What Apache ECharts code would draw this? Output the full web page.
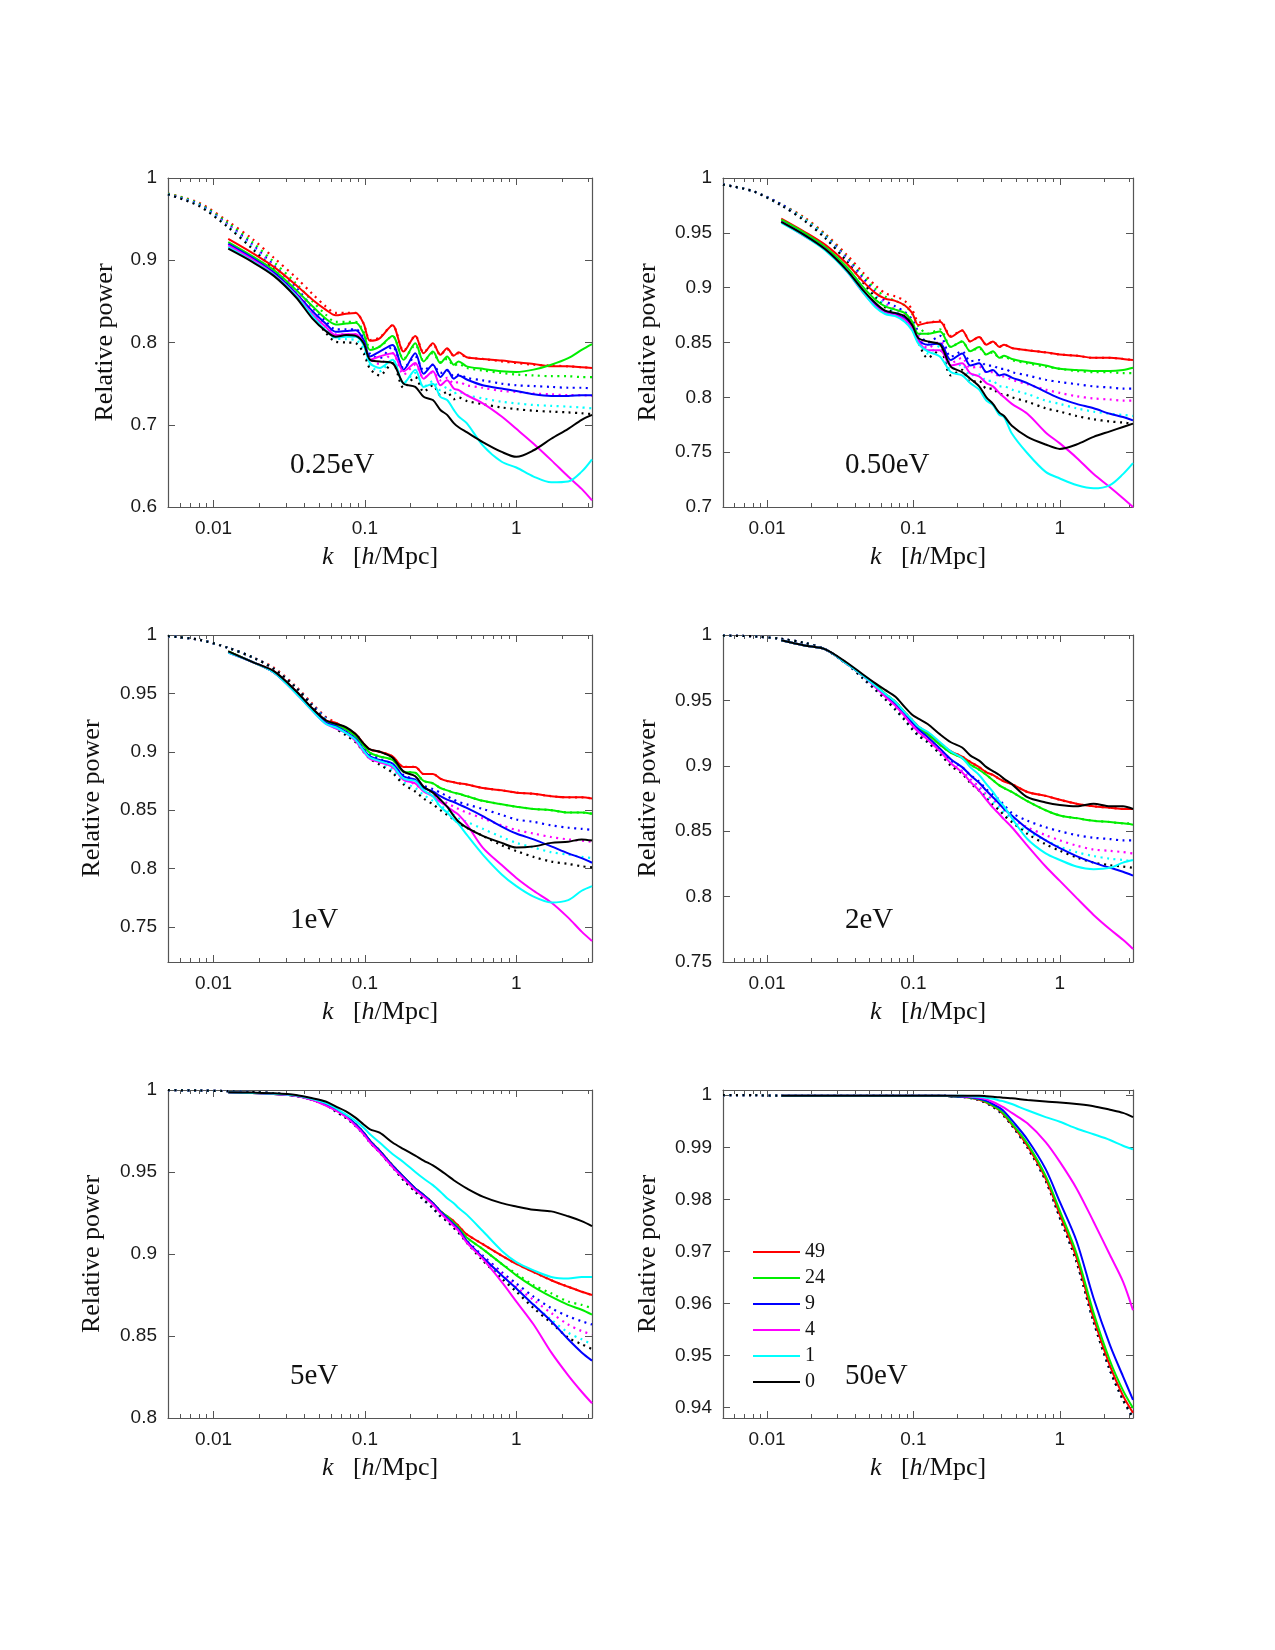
<!DOCTYPE html>
<html>
<head>
<meta charset="utf-8">
<script src="https://cdn.jsdelivr.net/npm/echarts@6/dist/echarts.min.js"></script>
<style>
  html, body { margin: 0; padding: 0; background: #fff; }
  #chart { width: 1275px; height: 1650px; }
</style>
</head>
<body>
<div id="chart"></div>
<script>
// wavenumber grid, k [h/Mpc]
const K = [0.005, 0.008, 0.0125, 0.018, 0.025, 0.035, 0.045, 0.055, 0.064, 0.075, 0.087, 0.098, 0.108, 0.125, 0.152, 0.18,
  0.215, 0.244, 0.281, 0.315, 0.349, 0.386, 0.416, 0.47, 0.6, 0.8, 1.0, 1.3, 1.7, 2.2, 2.7, 3.16];

const X_MIN = 0.005, X_MAX = 3.16;
const X_MAJOR = [0.01, 0.1, 1];
const X_MINOR = [0.006, 0.007, 0.008, 0.009, 0.02, 0.03, 0.04, 0.05, 0.06, 0.07, 0.08, 0.09,
  0.2, 0.3, 0.4, 0.5, 0.6, 0.7, 0.8, 0.9, 2, 3];

// redshifts (legend) and line colours
const Z_LABELS = ['49', '24', '9', '4', '1', '0'];
const COLORS = ['#ff0000', '#00ee00', '#0000ff', '#ff00ff', '#00ffff', '#000000'];

// ---- 0.25eV ---- (s = simulation, solid; t = linear theory, dotted)
const s025_49 = [null, null, 0.926, 0.909, 0.892, 0.870, 0.852, 0.840, 0.833, 0.835, 0.836, 0.823, 0.802, 0.805, 0.821, 0.789, 0.808, 0.787, 0.799, 0.785, 0.793, 0.784, 0.788, 0.782, 0.780, 0.778, 0.776, 0.774, 0.771, 0.771, 0.770, 0.769];
const s025_24 = [null, null, 0.922, 0.905, 0.888, 0.864, 0.844, 0.829, 0.822, 0.823, 0.824, 0.811, 0.791, 0.795, 0.808, 0.779, 0.799, 0.777, 0.789, 0.775, 0.783, 0.773, 0.777, 0.771, 0.768, 0.765, 0.764, 0.767, 0.773, 0.781, 0.791, 0.798];
const s025_9 = [null, null, 0.920, 0.903, 0.885, 0.860, 0.838, 0.823, 0.813, 0.814, 0.815, 0.803, 0.783, 0.789, 0.797, 0.767, 0.787, 0.762, 0.773, 0.758, 0.767, 0.756, 0.760, 0.755, 0.748, 0.744, 0.741, 0.737, 0.735, 0.735, 0.736, 0.736];
const s025_4 = [null, null, 0.918, 0.901, 0.883, 0.858, 0.834, 0.819, 0.809, 0.810, 0.810, 0.799, 0.779, 0.783, 0.787, 0.765, 0.775, 0.756, 0.765, 0.748, 0.754, 0.744, 0.742, 0.736, 0.726, 0.710, 0.695, 0.677, 0.657, 0.637, 0.622, 0.608];
const s025_1 = [null, null, 0.916, 0.899, 0.882, 0.857, 0.832, 0.815, 0.806, 0.807, 0.807, 0.797, 0.775, 0.769, 0.779, 0.750, 0.767, 0.746, 0.750, 0.734, 0.730, 0.718, 0.710, 0.702, 0.675, 0.655, 0.648, 0.637, 0.630, 0.631, 0.643, 0.658];
const s025_0 = [null, null, 0.914, 0.898, 0.881, 0.855, 0.829, 0.814, 0.807, 0.809, 0.808, 0.799, 0.779, 0.777, 0.775, 0.750, 0.746, 0.734, 0.730, 0.718, 0.712, 0.702, 0.697, 0.691, 0.679, 0.667, 0.661, 0.669, 0.683, 0.695, 0.706, 0.712];
const t025_49 = [0.981, 0.970, 0.947, 0.926, 0.903, 0.879, 0.859, 0.844, 0.836, 0.836, 0.836, 0.823, 0.803, 0.806, 0.821, 0.790, 0.808, 0.788, 0.798, 0.785, 0.792, 0.784, 0.787, 0.782, 0.780, 0.777, 0.775, 0.773, 0.772, 0.771, 0.770, 0.769];
const t025_24 = [0.981, 0.969, 0.945, 0.922, 0.898, 0.872, 0.850, 0.834, 0.825, 0.825, 0.825, 0.813, 0.794, 0.795, 0.808, 0.780, 0.797, 0.778, 0.787, 0.776, 0.780, 0.772, 0.774, 0.769, 0.766, 0.763, 0.761, 0.760, 0.759, 0.759, 0.758, 0.758];
const t025_9 = [0.980, 0.968, 0.943, 0.919, 0.894, 0.867, 0.843, 0.826, 0.816, 0.816, 0.816, 0.805, 0.786, 0.781, 0.795, 0.769, 0.783, 0.766, 0.773, 0.763, 0.766, 0.759, 0.761, 0.757, 0.754, 0.750, 0.748, 0.747, 0.746, 0.745, 0.745, 0.744];
const t025_4 = [0.980, 0.967, 0.942, 0.917, 0.892, 0.864, 0.839, 0.821, 0.810, 0.810, 0.810, 0.799, 0.780, 0.774, 0.787, 0.761, 0.773, 0.757, 0.764, 0.754, 0.757, 0.750, 0.752, 0.748, 0.745, 0.741, 0.740, 0.738, 0.737, 0.736, 0.736, 0.735];
const t025_1 = [0.980, 0.967, 0.941, 0.916, 0.890, 0.861, 0.835, 0.816, 0.805, 0.804, 0.803, 0.792, 0.772, 0.765, 0.779, 0.751, 0.763, 0.746, 0.753, 0.742, 0.746, 0.738, 0.740, 0.736, 0.732, 0.728, 0.726, 0.724, 0.723, 0.722, 0.721, 0.720];
const t025_0 = [0.980, 0.966, 0.940, 0.914, 0.888, 0.858, 0.832, 0.812, 0.801, 0.800, 0.799, 0.787, 0.768, 0.760, 0.775, 0.745, 0.758, 0.740, 0.748, 0.736, 0.740, 0.731, 0.733, 0.729, 0.725, 0.721, 0.719, 0.717, 0.716, 0.715, 0.714, 0.713];

// ---- 0.50eV ----
const s050_49 = [null, null, 0.963, 0.951, 0.939, 0.922, 0.906, 0.895, 0.890, 0.888, 0.884, 0.877, 0.866, 0.868, 0.869, 0.855, 0.861, 0.851, 0.855, 0.848, 0.851, 0.846, 0.848, 0.845, 0.843, 0.841, 0.839, 0.838, 0.836, 0.836, 0.835, 0.834];
const s050_24 = [null, null, 0.962, 0.950, 0.937, 0.919, 0.901, 0.889, 0.883, 0.880, 0.877, 0.869, 0.858, 0.858, 0.860, 0.846, 0.851, 0.842, 0.846, 0.839, 0.842, 0.836, 0.838, 0.835, 0.832, 0.829, 0.826, 0.825, 0.824, 0.824, 0.825, 0.827];
const s050_9 = [null, null, 0.960, 0.948, 0.935, 0.916, 0.898, 0.884, 0.878, 0.876, 0.872, 0.864, 0.852, 0.848, 0.849, 0.834, 0.840, 0.829, 0.831, 0.823, 0.825, 0.820, 0.821, 0.818, 0.813, 0.805, 0.799, 0.794, 0.790, 0.785, 0.782, 0.779];
const s050_4 = [null, null, 0.960, 0.947, 0.935, 0.915, 0.896, 0.883, 0.877, 0.875, 0.871, 0.863, 0.851, 0.843, 0.843, 0.829, 0.831, 0.822, 0.819, 0.813, 0.810, 0.804, 0.800, 0.794, 0.785, 0.768, 0.758, 0.745, 0.730, 0.718, 0.708, 0.700];
const s050_1 = [null, null, 0.959, 0.947, 0.934, 0.915, 0.896, 0.882, 0.876, 0.874, 0.869, 0.861, 0.849, 0.842, 0.837, 0.823, 0.820, 0.813, 0.807, 0.797, 0.793, 0.784, 0.782, 0.767, 0.749, 0.732, 0.726, 0.720, 0.717, 0.720, 0.730, 0.740];
const s050_0 = [null, null, 0.960, 0.948, 0.935, 0.916, 0.898, 0.886, 0.879, 0.877, 0.874, 0.866, 0.854, 0.851, 0.848, 0.828, 0.823, 0.817, 0.810, 0.800, 0.794, 0.786, 0.783, 0.774, 0.764, 0.757, 0.753, 0.757, 0.764, 0.769, 0.773, 0.776];
const t050_49 = [0.994, 0.988, 0.976, 0.964, 0.949, 0.930, 0.914, 0.902, 0.895, 0.892, 0.888, 0.880, 0.869, 0.868, 0.870, 0.856, 0.861, 0.851, 0.855, 0.848, 0.851, 0.846, 0.848, 0.845, 0.843, 0.841, 0.839, 0.838, 0.836, 0.836, 0.835, 0.834];
const t050_24 = [0.994, 0.988, 0.976, 0.963, 0.948, 0.928, 0.911, 0.899, 0.892, 0.888, 0.884, 0.876, 0.865, 0.858, 0.862, 0.846, 0.851, 0.842, 0.845, 0.839, 0.841, 0.836, 0.837, 0.834, 0.831, 0.828, 0.826, 0.824, 0.823, 0.823, 0.822, 0.822];
const t050_9 = [0.994, 0.988, 0.976, 0.962, 0.947, 0.927, 0.909, 0.896, 0.888, 0.883, 0.878, 0.871, 0.860, 0.850, 0.856, 0.837, 0.842, 0.833, 0.834, 0.829, 0.829, 0.826, 0.826, 0.823, 0.820, 0.816, 0.814, 0.812, 0.810, 0.809, 0.808, 0.808];
const t050_4 = [0.994, 0.988, 0.975, 0.962, 0.946, 0.926, 0.907, 0.894, 0.886, 0.880, 0.875, 0.868, 0.856, 0.845, 0.851, 0.831, 0.836, 0.827, 0.828, 0.823, 0.823, 0.819, 0.819, 0.816, 0.812, 0.807, 0.804, 0.801, 0.799, 0.798, 0.797, 0.797];
const t050_1 = [0.994, 0.988, 0.975, 0.962, 0.946, 0.925, 0.906, 0.893, 0.884, 0.878, 0.873, 0.865, 0.853, 0.840, 0.847, 0.825, 0.830, 0.820, 0.821, 0.815, 0.815, 0.810, 0.810, 0.807, 0.803, 0.797, 0.794, 0.790, 0.787, 0.785, 0.784, 0.783];
const t050_0 = [0.994, 0.988, 0.975, 0.961, 0.945, 0.924, 0.905, 0.891, 0.882, 0.876, 0.870, 0.862, 0.850, 0.836, 0.843, 0.820, 0.825, 0.814, 0.815, 0.808, 0.808, 0.803, 0.803, 0.800, 0.796, 0.790, 0.787, 0.783, 0.780, 0.778, 0.777, 0.776];

// ---- 1eV ----
const s1_49 = [null, null, 0.986, 0.977, 0.969, 0.952, 0.937, 0.927, 0.925, 0.920, 0.915, 0.907, 0.902, 0.900, 0.896, 0.887, 0.887, 0.881, 0.881, 0.877, 0.875, 0.874, 0.873, 0.872, 0.869, 0.867, 0.865, 0.864, 0.862, 0.861, 0.861, 0.860];
const s1_24 = [null, null, 0.986, 0.977, 0.968, 0.951, 0.936, 0.926, 0.923, 0.919, 0.913, 0.905, 0.899, 0.896, 0.893, 0.883, 0.882, 0.875, 0.873, 0.869, 0.867, 0.865, 0.864, 0.862, 0.858, 0.855, 0.853, 0.851, 0.850, 0.848, 0.848, 0.847];
const s1_9 = [null, null, 0.985, 0.977, 0.968, 0.951, 0.936, 0.925, 0.922, 0.917, 0.911, 0.902, 0.896, 0.893, 0.890, 0.879, 0.876, 0.869, 0.866, 0.862, 0.859, 0.857, 0.855, 0.852, 0.845, 0.836, 0.830, 0.825, 0.819, 0.813, 0.809, 0.805];
const s1_4 = [null, null, 0.985, 0.977, 0.968, 0.950, 0.935, 0.924, 0.920, 0.916, 0.909, 0.900, 0.894, 0.891, 0.887, 0.876, 0.873, 0.866, 0.862, 0.857, 0.853, 0.849, 0.846, 0.838, 0.818, 0.803, 0.792, 0.781, 0.771, 0.758, 0.746, 0.738];
const s1_1 = [null, null, 0.985, 0.977, 0.968, 0.950, 0.935, 0.924, 0.921, 0.916, 0.910, 0.901, 0.895, 0.892, 0.888, 0.877, 0.875, 0.867, 0.862, 0.853, 0.848, 0.842, 0.838, 0.829, 0.812, 0.795, 0.785, 0.776, 0.771, 0.773, 0.781, 0.785];
const s1_0 = [null, null, 0.986, 0.977, 0.969, 0.952, 0.937, 0.927, 0.924, 0.921, 0.915, 0.907, 0.902, 0.900, 0.895, 0.883, 0.879, 0.870, 0.865, 0.859, 0.853, 0.845, 0.840, 0.835, 0.828, 0.822, 0.818, 0.819, 0.822, 0.823, 0.825, 0.824];
const t1_49 = [0.999, 0.996, 0.989, 0.981, 0.972, 0.956, 0.941, 0.930, 0.925, 0.920, 0.915, 0.907, 0.902, 0.900, 0.896, 0.887, 0.887, 0.881, 0.881, 0.877, 0.875, 0.874, 0.873, 0.872, 0.869, 0.867, 0.865, 0.864, 0.862, 0.861, 0.861, 0.860];
const t1_24 = [0.999, 0.996, 0.989, 0.981, 0.971, 0.955, 0.940, 0.929, 0.923, 0.919, 0.913, 0.905, 0.899, 0.896, 0.893, 0.883, 0.882, 0.875, 0.873, 0.869, 0.867, 0.865, 0.864, 0.862, 0.858, 0.855, 0.853, 0.851, 0.850, 0.848, 0.848, 0.847];
const t1_9 = [0.999, 0.996, 0.989, 0.981, 0.971, 0.955, 0.940, 0.929, 0.922, 0.917, 0.911, 0.903, 0.898, 0.894, 0.889, 0.880, 0.876, 0.871, 0.868, 0.865, 0.862, 0.859, 0.857, 0.855, 0.851, 0.846, 0.842, 0.840, 0.837, 0.835, 0.834, 0.833];
const t1_4 = [0.999, 0.996, 0.989, 0.981, 0.971, 0.955, 0.939, 0.928, 0.921, 0.916, 0.910, 0.902, 0.896, 0.892, 0.886, 0.877, 0.872, 0.867, 0.863, 0.859, 0.856, 0.853, 0.851, 0.848, 0.843, 0.837, 0.833, 0.830, 0.827, 0.825, 0.824, 0.823];
const t1_1 = [0.999, 0.996, 0.989, 0.981, 0.971, 0.955, 0.939, 0.928, 0.921, 0.915, 0.909, 0.901, 0.895, 0.890, 0.884, 0.874, 0.869, 0.863, 0.858, 0.854, 0.850, 0.846, 0.843, 0.840, 0.834, 0.827, 0.822, 0.818, 0.814, 0.812, 0.810, 0.809];
const t1_0 = [0.999, 0.996, 0.989, 0.981, 0.971, 0.955, 0.939, 0.927, 0.920, 0.914, 0.908, 0.900, 0.894, 0.889, 0.882, 0.872, 0.866, 0.860, 0.855, 0.850, 0.846, 0.842, 0.839, 0.835, 0.828, 0.820, 0.815, 0.810, 0.806, 0.804, 0.802, 0.801];

// ---- 2eV ----
const s2_49 = [null, null, 0.996, 0.992, 0.989, 0.978, 0.969, 0.962, 0.955, 0.949, 0.941, 0.935, 0.930, 0.925, 0.917, 0.911, 0.907, 0.903, 0.899, 0.895, 0.893, 0.890, 0.888, 0.886, 0.880, 0.877, 0.874, 0.871, 0.869, 0.868, 0.867, 0.867];
const s2_24 = [null, null, 0.996, 0.992, 0.989, 0.978, 0.969, 0.962, 0.955, 0.949, 0.941, 0.934, 0.929, 0.924, 0.916, 0.910, 0.906, 0.901, 0.897, 0.893, 0.889, 0.885, 0.883, 0.880, 0.873, 0.866, 0.862, 0.860, 0.858, 0.857, 0.856, 0.855];
const s2_9 = [null, null, 0.996, 0.992, 0.989, 0.978, 0.969, 0.961, 0.954, 0.947, 0.940, 0.933, 0.928, 0.922, 0.913, 0.905, 0.899, 0.893, 0.887, 0.881, 0.876, 0.871, 0.867, 0.862, 0.852, 0.843, 0.837, 0.831, 0.826, 0.822, 0.819, 0.816];
const s2_4 = [null, null, 0.996, 0.992, 0.989, 0.978, 0.969, 0.960, 0.953, 0.946, 0.938, 0.931, 0.926, 0.920, 0.911, 0.902, 0.895, 0.888, 0.881, 0.874, 0.868, 0.863, 0.859, 0.853, 0.839, 0.823, 0.812, 0.799, 0.786, 0.775, 0.767, 0.760];
const s2_1 = [null, null, 0.996, 0.992, 0.989, 0.978, 0.969, 0.961, 0.955, 0.949, 0.941, 0.935, 0.930, 0.926, 0.918, 0.911, 0.906, 0.899, 0.893, 0.886, 0.880, 0.873, 0.869, 0.860, 0.844, 0.833, 0.828, 0.823, 0.821, 0.822, 0.826, 0.828];
const s2_0 = [null, null, 0.996, 0.992, 0.989, 0.979, 0.970, 0.963, 0.958, 0.953, 0.945, 0.939, 0.936, 0.932, 0.924, 0.918, 0.914, 0.908, 0.904, 0.899, 0.896, 0.893, 0.890, 0.886, 0.876, 0.872, 0.870, 0.869, 0.871, 0.869, 0.869, 0.867];
const t2_49 = [0.9995, 0.999, 0.997, 0.994, 0.989, 0.978, 0.969, 0.962, 0.955, 0.949, 0.941, 0.935, 0.930, 0.925, 0.917, 0.911, 0.907, 0.903, 0.899, 0.895, 0.893, 0.890, 0.888, 0.886, 0.880, 0.877, 0.874, 0.871, 0.869, 0.868, 0.867, 0.867];
const t2_24 = [0.9995, 0.999, 0.997, 0.994, 0.989, 0.978, 0.969, 0.962, 0.955, 0.949, 0.941, 0.934, 0.929, 0.924, 0.916, 0.910, 0.906, 0.901, 0.897, 0.893, 0.889, 0.885, 0.883, 0.880, 0.873, 0.866, 0.862, 0.860, 0.858, 0.857, 0.856, 0.856];
const t2_9 = [0.9995, 0.999, 0.997, 0.994, 0.989, 0.978, 0.968, 0.959, 0.952, 0.945, 0.937, 0.930, 0.925, 0.920, 0.912, 0.904, 0.899, 0.893, 0.888, 0.882, 0.878, 0.874, 0.870, 0.864, 0.858, 0.853, 0.850, 0.847, 0.845, 0.844, 0.843, 0.843];
const t2_4 = [0.9995, 0.999, 0.997, 0.994, 0.989, 0.978, 0.967, 0.958, 0.951, 0.944, 0.936, 0.929, 0.924, 0.919, 0.910, 0.902, 0.896, 0.890, 0.884, 0.878, 0.874, 0.870, 0.866, 0.860, 0.853, 0.847, 0.843, 0.839, 0.836, 0.835, 0.834, 0.833];
const t2_1 = [0.9995, 0.999, 0.997, 0.994, 0.989, 0.978, 0.967, 0.958, 0.951, 0.943, 0.935, 0.928, 0.923, 0.918, 0.909, 0.901, 0.895, 0.888, 0.882, 0.876, 0.872, 0.868, 0.864, 0.858, 0.850, 0.843, 0.838, 0.834, 0.831, 0.829, 0.828, 0.827];
const t2_0 = [0.9995, 0.999, 0.997, 0.994, 0.989, 0.978, 0.967, 0.958, 0.951, 0.943, 0.935, 0.928, 0.923, 0.918, 0.909, 0.900, 0.894, 0.887, 0.881, 0.875, 0.870, 0.866, 0.862, 0.857, 0.848, 0.840, 0.835, 0.830, 0.826, 0.824, 0.823, 0.822];

// ---- 5eV ----
const s5_49 = [null, null, 0.9986, 0.9982, 0.9976, 0.9965, 0.994, 0.991, 0.988, 0.984, 0.979, 0.974, 0.969, 0.963, 0.954, 0.947, 0.940, 0.936, 0.931, 0.926, 0.923, 0.920, 0.917, 0.912, 0.906, 0.899, 0.894, 0.889, 0.884, 0.880, 0.877, 0.875];
const s5_24 = [null, null, 0.9986, 0.9982, 0.9976, 0.9965, 0.994, 0.991, 0.988, 0.984, 0.979, 0.974, 0.969, 0.963, 0.954, 0.947, 0.940, 0.936, 0.931, 0.926, 0.923, 0.919, 0.916, 0.910, 0.903, 0.894, 0.887, 0.880, 0.874, 0.869, 0.866, 0.863];
const s5_9 = [null, null, 0.9986, 0.9982, 0.9976, 0.9965, 0.994, 0.991, 0.988, 0.984, 0.979, 0.974, 0.969, 0.963, 0.954, 0.947, 0.940, 0.936, 0.931, 0.926, 0.922, 0.918, 0.915, 0.908, 0.898, 0.887, 0.879, 0.869, 0.859, 0.848, 0.840, 0.835];
const s5_4 = [null, null, 0.9986, 0.9982, 0.9976, 0.9964, 0.9938, 0.9905, 0.9875, 0.9835, 0.978, 0.973, 0.968, 0.962, 0.953, 0.946, 0.939, 0.935, 0.930, 0.925, 0.921, 0.917, 0.914, 0.907, 0.897, 0.883, 0.871, 0.857, 0.840, 0.826, 0.816, 0.809];
const s5_1 = [null, null, 0.9986, 0.9982, 0.9977, 0.9967, 0.9945, 0.992, 0.989, 0.985, 0.981, 0.977, 0.973, 0.968, 0.961, 0.956, 0.950, 0.946, 0.942, 0.938, 0.934, 0.931, 0.928, 0.924, 0.914, 0.902, 0.895, 0.890, 0.886, 0.885, 0.886, 0.886];
const s5_0 = [null, null, 0.9987, 0.9984, 0.998, 0.997, 0.995, 0.993, 0.990, 0.987, 0.983, 0.979, 0.976, 0.974, 0.968, 0.964, 0.960, 0.957, 0.954, 0.951, 0.948, 0.945, 0.943, 0.940, 0.935, 0.931, 0.929, 0.927, 0.926, 0.923, 0.920, 0.917];
const t5_49 = [0.9999, 0.9997, 0.9993, 0.9988, 0.998, 0.9965, 0.994, 0.991, 0.988, 0.984, 0.979, 0.974, 0.969, 0.963, 0.954, 0.947, 0.940, 0.936, 0.931, 0.926, 0.923, 0.920, 0.917, 0.912, 0.906, 0.899, 0.894, 0.889, 0.884, 0.880, 0.877, 0.875];
const t5_24 = [0.9999, 0.9997, 0.9993, 0.9988, 0.998, 0.9965, 0.994, 0.991, 0.988, 0.984, 0.979, 0.974, 0.969, 0.963, 0.954, 0.947, 0.940, 0.936, 0.931, 0.926, 0.923, 0.919, 0.916, 0.910, 0.903, 0.894, 0.888, 0.881, 0.876, 0.871, 0.869, 0.867];
const t5_9 = [0.9999, 0.9997, 0.9993, 0.9988, 0.998, 0.9965, 0.994, 0.991, 0.987, 0.983, 0.978, 0.973, 0.968, 0.962, 0.953, 0.945, 0.938, 0.933, 0.928, 0.923, 0.920, 0.916, 0.913, 0.908, 0.899, 0.889, 0.882, 0.874, 0.867, 0.862, 0.859, 0.857];
const t5_4 = [0.9999, 0.9997, 0.9993, 0.9988, 0.998, 0.9965, 0.994, 0.991, 0.987, 0.983, 0.978, 0.973, 0.968, 0.962, 0.953, 0.945, 0.938, 0.933, 0.928, 0.923, 0.920, 0.916, 0.913, 0.907, 0.898, 0.888, 0.880, 0.872, 0.864, 0.857, 0.853, 0.851];
const t5_1 = [0.9999, 0.9997, 0.9993, 0.9988, 0.998, 0.9965, 0.994, 0.991, 0.987, 0.983, 0.978, 0.973, 0.968, 0.962, 0.953, 0.945, 0.938, 0.933, 0.928, 0.923, 0.920, 0.916, 0.913, 0.907, 0.897, 0.886, 0.878, 0.869, 0.860, 0.852, 0.848, 0.845];
const t5_0 = [0.9999, 0.9997, 0.9993, 0.9988, 0.998, 0.9965, 0.994, 0.991, 0.987, 0.983, 0.978, 0.973, 0.968, 0.962, 0.953, 0.945, 0.938, 0.933, 0.928, 0.923, 0.920, 0.916, 0.913, 0.907, 0.896, 0.885, 0.877, 0.867, 0.858, 0.849, 0.845, 0.842];

// ---- 50eV ----
const s50_49 = [null, null, 0.9999, 0.9999, 0.9999, 0.9999, 0.9999, 0.9999, 0.9999, 0.9999, 0.9999, 0.9999, 0.9999, 0.9999, 0.9999, 0.9998, 0.9997, 0.9995, 0.9991, 0.9986, 0.9979, 0.9971, 0.9962, 0.9944, 0.9903, 0.9840, 0.9771, 0.9688, 0.9572, 0.9480, 0.9423, 0.9390];
const s50_24 = [null, null, 0.9999, 0.9999, 0.9999, 0.9999, 0.9999, 0.9999, 0.9999, 0.9999, 0.9999, 0.9999, 0.9999, 0.9999, 0.9999, 0.9998, 0.9997, 0.9995, 0.9992, 0.9987, 0.9980, 0.9972, 0.9964, 0.9946, 0.9907, 0.9845, 0.9778, 0.9696, 0.9582, 0.9490, 0.9433, 0.9399];
const s50_9 = [null, null, 0.9999, 0.9999, 0.9999, 0.9999, 0.9999, 0.9999, 0.9999, 0.9999, 0.9999, 0.9999, 0.9999, 0.9999, 0.9999, 0.9998, 0.9997, 0.9996, 0.9993, 0.9989, 0.9983, 0.9976, 0.9969, 0.9952, 0.9915, 0.9858, 0.9795, 0.9720, 0.9610, 0.9520, 0.9460, 0.9415];
const s50_4 = [null, null, 0.9999, 0.9999, 0.9999, 0.9999, 0.9999, 0.9999, 0.9999, 0.9999, 0.9999, 0.9999, 0.9999, 0.9999, 0.9999, 0.9999, 0.9998, 0.9997, 0.9995, 0.9992, 0.9987, 0.9981, 0.9976, 0.9966, 0.9946, 0.9910, 0.9872, 0.9821, 0.9757, 0.9693, 0.9642, 0.9587];
const s50_1 = [null, null, 0.9999, 0.9999, 0.9999, 0.9999, 0.9999, 0.9999, 0.9999, 0.9999, 0.9999, 0.9999, 0.9999, 0.9999, 0.9999, 0.9999, 0.9999, 0.9998, 0.9997, 0.9995, 0.9993, 0.9990, 0.9988, 0.9983, 0.9971, 0.9958, 0.9949, 0.9936, 0.9925, 0.9914, 0.9903, 0.9896];
const s50_0 = [null, null, 0.9999, 0.9999, 0.9999, 0.9999, 0.9999, 0.9999, 0.9999, 0.9999, 0.9999, 0.9999, 0.9999, 0.9999, 0.9999, 0.9999, 0.9999, 0.9999, 0.9999, 0.9998, 0.9997, 0.9996, 0.9995, 0.9994, 0.9991, 0.9988, 0.9986, 0.9983, 0.9979, 0.9972, 0.9966, 0.9958];
// the linear curves of all redshifts coincide at 50eV
const t50_all = [1.0, 1.0, 0.9999, 0.9999, 0.9999, 0.9999, 0.9999, 0.9999, 0.9999, 0.9999, 0.9999, 0.9999, 0.9999, 0.9999, 0.9999, 0.9998, 0.9997, 0.9995, 0.9991, 0.9985, 0.9978, 0.9969, 0.9960, 0.9942, 0.9900, 0.9836, 0.9765, 0.9680, 0.9565, 0.9472, 0.9415, 0.9381];

// y ranges and tick labels for each panel
const Y_TICKS_025 = [0.6, 0.7, 0.8, 0.9, 1];
const Y_TICKS_050 = [0.7, 0.75, 0.8, 0.85, 0.9, 0.95, 1];
const Y_TICKS_1 = [0.75, 0.8, 0.85, 0.9, 0.95, 1];
const Y_TICKS_2 = [0.75, 0.8, 0.85, 0.9, 0.95, 1];
const Y_TICKS_5 = [0.8, 0.85, 0.9, 0.95, 1];
const Y_TICKS_50 = [0.94, 0.95, 0.96, 0.97, 0.98, 0.99, 1];

const panels = [
  { label: '0.25eV', ymin: 0.6, ymax: 1, yticks: Y_TICKS_025,
    sim: [s025_49, s025_24, s025_9, s025_4, s025_1, s025_0], lin: [t025_49, t025_24, t025_9, t025_4, t025_1, t025_0] },
  { label: '0.50eV', ymin: 0.7, ymax: 1, yticks: Y_TICKS_050,
    sim: [s050_49, s050_24, s050_9, s050_4, s050_1, s050_0], lin: [t050_49, t050_24, t050_9, t050_4, t050_1, t050_0] },
  { label: '1eV', ymin: 0.72, ymax: 1, yticks: Y_TICKS_1,
    sim: [s1_49, s1_24, s1_9, s1_4, s1_1, s1_0], lin: [t1_49, t1_24, t1_9, t1_4, t1_1, t1_0] },
  { label: '2eV', ymin: 0.75, ymax: 1, yticks: Y_TICKS_2,
    sim: [s2_49, s2_24, s2_9, s2_4, s2_1, s2_0], lin: [t2_49, t2_24, t2_9, t2_4, t2_1, t2_0] },
  { label: '5eV', ymin: 0.8, ymax: 1, yticks: Y_TICKS_5,
    sim: [s5_49, s5_24, s5_9, s5_4, s5_1, s5_0], lin: [t5_49, t5_24, t5_9, t5_4, t5_1, t5_0] },
  { label: '50eV', ymin: 0.938, ymax: 1.001, yticks: Y_TICKS_50,
    sim: [s50_49, s50_24, s50_9, s50_4, s50_1, s50_0], lin: [t50_all, t50_all, t50_all, t50_all, t50_all, t50_all] }
];

// panel boxes on the page (px)
const boxes = [
  { left: 168, top: 178, width: 424, height: 329, yGap: 50 },
  { left: 723, top: 178, width: 410, height: 329, yGap: 62 },
  { left: 168, top: 635, width: 424, height: 327, yGap: 63 },
  { left: 723, top: 635, width: 410, height: 327, yGap: 62 },
  { left: 168, top: 1090, width: 424, height: 328, yGap: 63 },
  { left: 723, top: 1090, width: 410, height: 328, yGap: 62 }
];

const SERIF = '"Liberation Serif", "DejaVu Serif", serif';
const SANS = '"Liberation Sans", Arial, sans-serif';
const frame = { show: true, lineStyle: { color: '#555', width: 1.2 } };
const tickStyle = { color: '#555', width: 1 };

function pairs(arr) {
  const out = [];
  arr.forEach((v, i) => { if (v != null) out.push([K[i], v]); });
  return out;
}

const grids = [], xAxes = [], yAxes = [], series = [], graphics = [];

panels.forEach((p, pi) => {
  const b = boxes[pi];
  grids.push({ left: b.left, top: b.top, width: b.width, height: b.height, outerBoundsMode: 'none' });

  const xb = { type: 'log', logBase: 10, min: X_MIN, max: X_MAX, gridIndex: pi, silent: true,
    splitLine: { show: false }, axisLine: { show: false }, axisLabel: { show: false } };
  xAxes.push(Object.assign({}, xb, {
    position: 'bottom', axisLine: frame,
    axisTick: { inside: true, length: 7, customValues: X_MAJOR, lineStyle: tickStyle },
    axisLabel: { show: true, customValues: X_MAJOR, margin: 12, color: '#1a1a1a', fontFamily: SANS, fontSize: 19,
      formatter: v => String(+(+v).toPrecision(3)) },
    name: '{i|k}   [{i|h}/Mpc]', nameLocation: 'middle', nameGap: 37,
    nameTextStyle: { fontFamily: SERIF, fontSize: 26, color: '#111', rich: { i: { fontStyle: 'italic', fontFamily: SERIF, fontSize: 26 } } }
  }));
  xAxes.push(Object.assign({}, xb, { position: 'bottom',
    axisTick: { inside: true, length: 4, customValues: X_MINOR, lineStyle: tickStyle } }));
  xAxes.push(Object.assign({}, xb, { position: 'top', axisLine: frame,
    axisTick: { inside: true, length: 7, customValues: X_MAJOR, lineStyle: tickStyle } }));
  xAxes.push(Object.assign({}, xb, { position: 'top',
    axisTick: { inside: true, length: 4, customValues: X_MINOR, lineStyle: tickStyle } }));

  yAxes.push({ type: 'value', gridIndex: pi, min: p.ymin, max: p.ymax, position: 'left', silent: true,
    axisLine: frame, splitLine: { show: false },
    axisTick: { inside: true, length: 7, customValues: p.yticks, lineStyle: tickStyle },
    axisLabel: { customValues: p.yticks, margin: 11, color: '#1a1a1a', fontFamily: SANS, fontSize: 19,
      formatter: v => String(Math.round(v * 1000) / 1000) },
    name: 'Relative power', nameLocation: 'middle', nameRotate: 90, nameGap: b.yGap,
    nameTextStyle: { fontFamily: SERIF, fontSize: 26, color: '#111' } });
  yAxes.push({ type: 'value', gridIndex: pi, min: p.ymin, max: p.ymax, position: 'right', silent: true,
    axisLine: frame, splitLine: { show: false }, axisLabel: { show: false },
    axisTick: { inside: true, length: 7, customValues: p.yticks, lineStyle: tickStyle } });

  graphics.push({ type: 'text', left: b.left + 122, top: b.top + b.height - 56, silent: true,
    style: { text: p.label, fontFamily: SERIF, fontSize: 29, fill: '#111' } });
});

// solid (simulation) lines first so the legend takes their style
panels.forEach((p, pi) => {
  p.sim.forEach((arr, ci) => {
    series.push({ name: Z_LABELS[ci], type: 'line', xAxisIndex: pi * 4, yAxisIndex: pi * 2,
      data: pairs(arr), symbol: 'none', showSymbol: false, smooth: 0.3, z: 3,
      lineStyle: { color: COLORS[ci], width: 2 }, itemStyle: { color: COLORS[ci] } });
  });
});
panels.forEach((p, pi) => {
  p.lin.forEach((arr, ci) => {
    series.push({ name: Z_LABELS[ci] + ' linear', type: 'line', xAxisIndex: pi * 4, yAxisIndex: pi * 2,
      data: pairs(arr), symbol: 'none', showSymbol: false, smooth: 0.3, z: 2,
      lineStyle: { color: COLORS[ci], width: 2.2, type: [2, 4.5] }, itemStyle: { color: COLORS[ci] } });
  });
});

const chart = echarts.init(document.getElementById('chart'), null, { renderer: 'canvas' });
chart.setOption({
  backgroundColor: '#fff',
  animation: false,
  grid: grids,
  xAxis: xAxes,
  yAxis: yAxes,
  legend: {
    data: Z_LABELS, orient: 'vertical', left: 753, top: 1242, padding: 0,
    icon: 'path://M0,0 H47 V2 H0 Z', symbolKeepAspect: true,
    itemWidth: 47, itemHeight: 14, itemGap: 6, selectedMode: false,
    itemStyle: { borderWidth: 0 },
    textStyle: { fontFamily: SERIF, fontSize: 20, lineHeight: 20, color: '#111' }
  },
  graphic: graphics,
  series: series
});
</script>
</body>
</html>
